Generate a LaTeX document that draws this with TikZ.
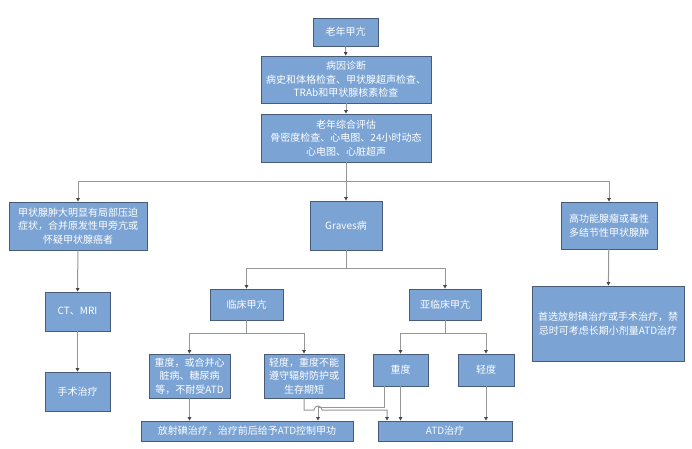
\documentclass[tikz,border=0pt]{standalone}
\usepackage{fontspec}
\setmainfont{Noto Sans CJK SC}
\usetikzlibrary{positioning,arrows.meta}
\definecolor{boxblue}{RGB}{123,163,212}
\definecolor{boxedge}{RGB}{72,92,122}
\definecolor{linegray}{RGB}{150,150,150}
\definecolor{tipgray}{RGB}{70,70,70}

\begin{document}
\begin{tikzpicture}[x=1pt,y=-1pt,
    box/.style={draw=boxedge, fill=boxblue, line width=0.8pt, text=white, align=center,
        inner sep=1pt, font=\fontsize{10}{13.5}\selectfont},
    link/.style={draw=linegray, line width=1pt},
    conn/.style={link, -{Triangle[length=3.5pt,width=3.5pt,color=tipgray]}}]
    \useasboundingbox (0,0) rectangle (692,448);

    % Top chain
    \node[box, minimum width=65pt, minimum height=28pt] (top) at (345.5,32) {老年甲亢};
    \node[box, minimum width=170pt, minimum height=47pt] (diag) at (346,79.5) {病因诊断\\病史和体格检查、甲状腺超声检查、\\TRAb和甲状腺核素检查};
    \node[box, minimum width=170pt, minimum height=48pt] (eval) at (346,138) {老年综合评估\\骨密度检查、心电图、24小时动态\\心电图、心脏超声};

    % Three branches
    \node[box, minimum width=138pt, minimum height=48pt] (goiter) at (78,226) {甲状腺肿大明显有局部压迫\\症状，合并原发性甲旁亢或\\怀疑甲状腺癌者};
    \node[box, minimum width=72pt, minimum height=49pt] (graves) at (346,225.5) {Graves病};
    \node[box, minimum width=96pt, minimum height=47pt] (hot) at (609,225.5) {高功能腺瘤或毒性\\多结节性甲状腺肿};

    % Left column
    \node[box, minimum width=65pt, minimum height=39pt] (ctmri) at (77.5,311.5) {CT、MRI};
    \node[box, minimum width=65pt, minimum height=39pt] (surg) at (77.5,391.5) {手术治疗};

    % Right column
    \node[box, minimum width=152pt, minimum height=75pt] (hotcare) at (608,323.5) {首选放射碘治疗或手术治疗，禁\\忌时可考虑长期小剂量ATD治疗};

    % Graves subtypes
    \node[box, minimum width=73pt, minimum height=31pt] (clin) at (246.5,304.5) {临床甲亢};
    \node[box, minimum width=72pt, minimum height=31pt] (subc) at (445,304.5) {亚临床甲亢};
    \node[box, minimum width=81pt, minimum height=44pt] (csev) at (189.5,376) {重度，或合并心\\脏病、糖尿病\\等，不耐受ATD};
    \node[box, minimum width=80pt, minimum height=44pt] (cmild) at (304,376) {轻度，重度不能\\遵守辐射防护或\\生存期短};
    \node[box, minimum width=55pt, minimum height=32pt] (ssev) at (400.5,370) {重度};
    \node[box, minimum width=56pt, minimum height=32pt] (smild) at (486,370) {轻度};

    % Treatments
    \node[box, minimum width=212pt, minimum height=20pt] (rai) at (247,431) {放射碘治疗，治疗前后给予ATD控制甲功};
    \node[box, minimum width=134pt, minimum height=20pt] (atd) at (445,431) {ATD治疗};

    % Connectors
    \draw[conn] (top) -- (diag);
    \draw[conn] (diag) -- (eval);
    \coordinate (trunk) at (346,181);
    \draw[conn] (eval.south) -- (graves.north);
    \draw[conn] (trunk) -| (goiter.north);
    \draw[conn] (trunk) -| (hot.north);
    \draw[conn] (goiter) -- (ctmri);
    \draw[conn] (ctmri) -- (surg);
    \draw[conn] (hot) -- (hotcare);

    \coordinate (gsplit) at (346,268);
    \draw[link] (graves.south) -- (gsplit);
    \foreach \t in {clin,subc}
        \draw[conn] (gsplit) -| (\t.north);

    \coordinate (csplit) at (246.5,333);
    \draw[link] (clin.south) -- (csplit);
    \foreach \t in {csev,cmild}
        \draw[conn] (csplit) -| (\t.north);

    \coordinate (ssplit) at (445,333);
    \draw[link] (subc.south) -- (ssplit);
    \foreach \t in {ssev,smild}
        \draw[conn] (ssplit) -| (\t.north);

    \draw[conn] (csev.south) -- (csev.south |- rai.north);
    \coordinate (jumpat) at (318,410);
    \draw[conn] ([xshift=-16.5pt]ssev.south) -- ++(0,21) -| (jumpat |- rai.north);
    \draw[conn] (cmild.south) |- ([xshift=-4pt]jumpat) arc[start angle=180,end angle=0,radius=4pt]
        -| ([xshift=-58pt]atd.north);
    \foreach \s in {ssev,smild}
        \draw[conn] (\s.south) -- (\s.south |- atd.north);
\end{tikzpicture}
\end{document}
